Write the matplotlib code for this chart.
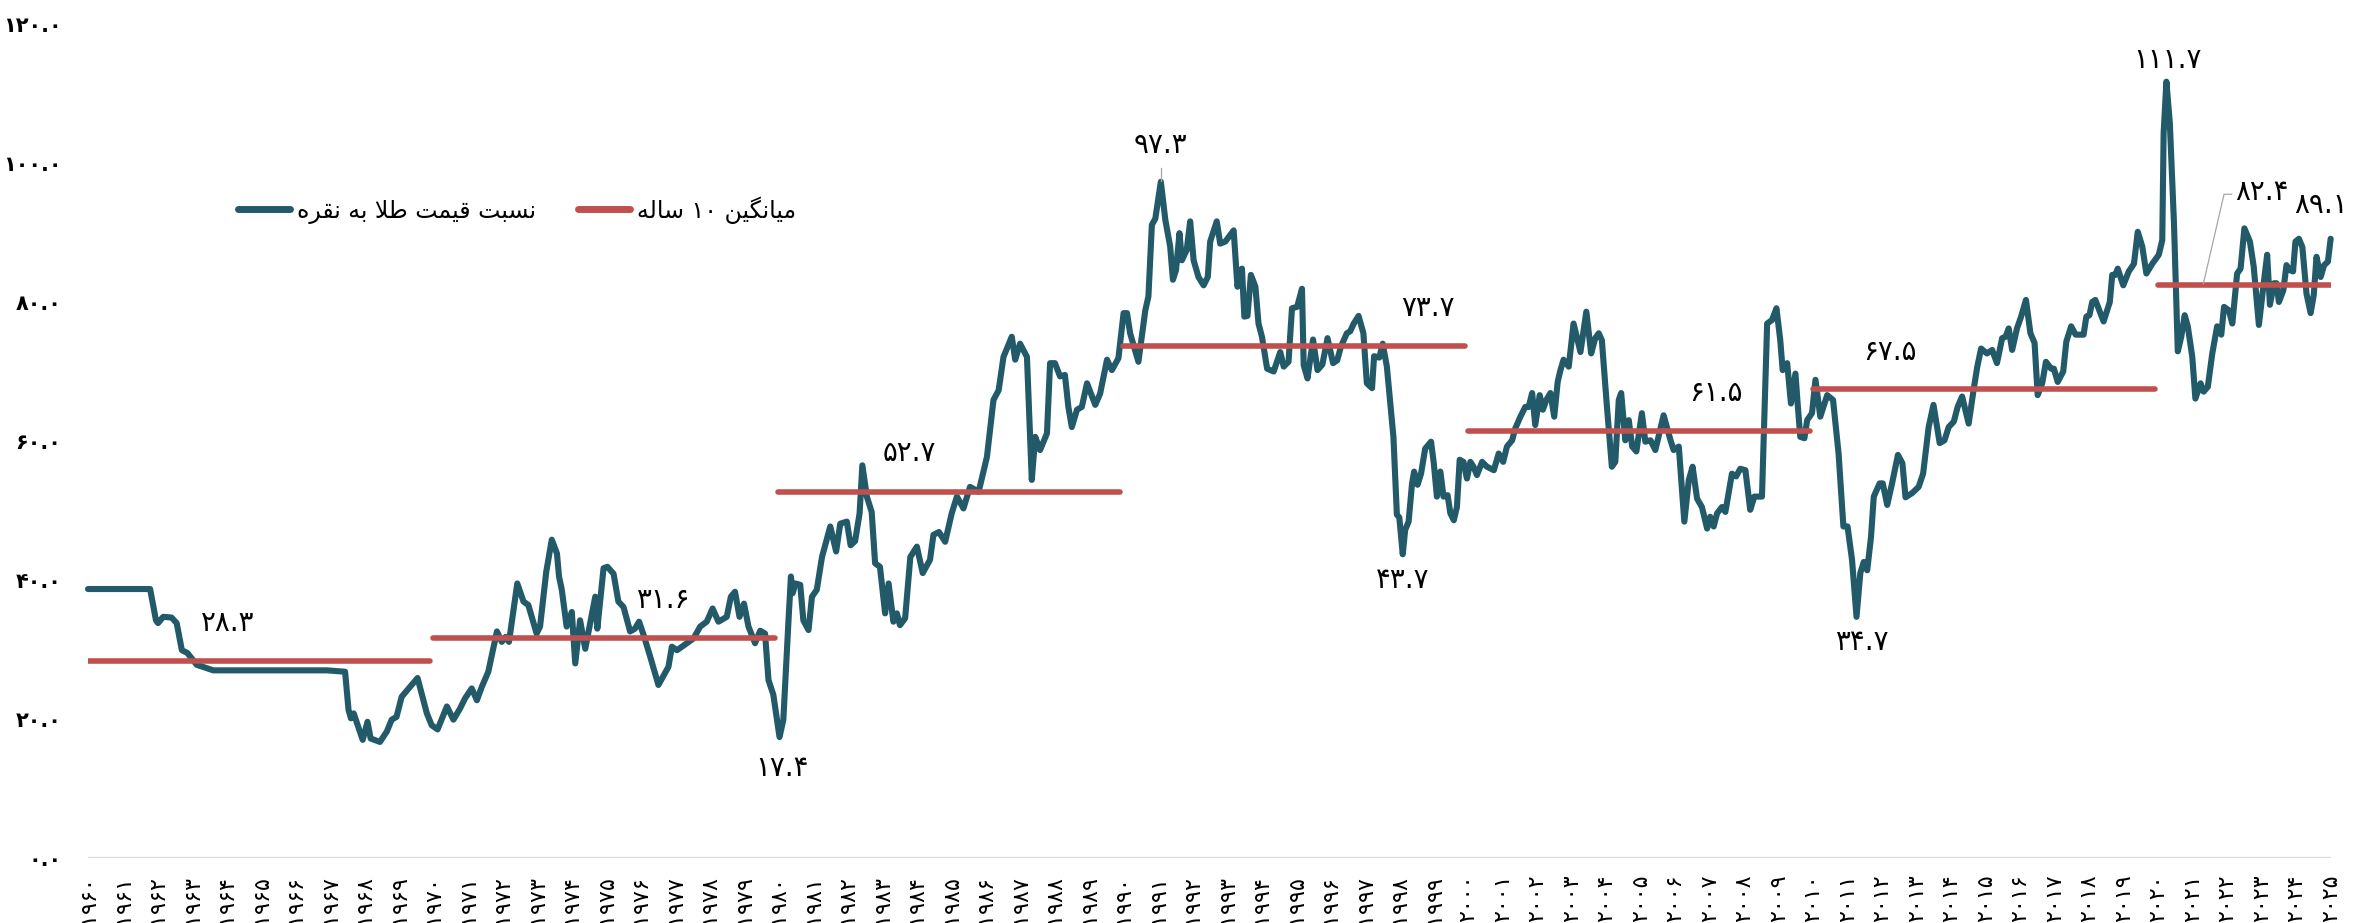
import matplotlib
matplotlib.use("Agg")
import matplotlib.pyplot as plt
from matplotlib.lines import Line2D

# ---- data ----
years = [
    1960.00, 1961.80, 1961.97, 1962.03, 1962.18, 1962.42, 1962.57, 1962.72, 1962.88, 1962.96,
    1963.15, 1963.63, 1966.92, 1967.45, 1967.55, 1967.62, 1967.70, 1967.96, 1968.10, 1968.19,
    1968.46, 1968.66, 1968.80, 1968.94, 1969.09, 1969.55, 1969.82, 1969.96, 1970.13, 1970.40,
    1970.59, 1970.78, 1970.93, 1971.12, 1971.27, 1971.41, 1971.60, 1971.85, 1971.99, 1972.10,
    1972.20, 1972.44, 1972.62, 1972.76, 1973.00, 1973.10, 1973.28, 1973.44, 1973.59, 1973.65,
    1973.73, 1973.87, 1974.02, 1974.12, 1974.26, 1974.41, 1974.70, 1974.76, 1974.94, 1975.05,
    1975.23, 1975.37, 1975.52, 1975.71, 1975.85, 1975.97, 1976.10, 1976.29, 1976.53, 1976.82,
    1976.92, 1977.07, 1977.35, 1977.55, 1977.74, 1977.93, 1978.10, 1978.27, 1978.51, 1978.63,
    1978.75, 1978.88, 1979.01, 1979.14, 1979.33, 1979.48, 1979.62, 1979.72, 1979.86, 1980.04,
    1980.15, 1980.30, 1980.37, 1980.42, 1980.50, 1980.64, 1980.73, 1980.88, 1980.98, 1981.12,
    1981.27, 1981.51, 1981.68, 1981.80, 1981.99, 1982.10, 1982.23, 1982.36, 1982.44, 1982.57,
    1982.71, 1982.81, 1982.95, 1983.10, 1983.20, 1983.34, 1983.44, 1983.53, 1983.68, 1983.83,
    1984.02, 1984.19, 1984.40, 1984.50, 1984.66, 1984.84, 1985.03, 1985.18, 1985.37, 1985.56,
    1985.81, 1986.05, 1986.24, 1986.39, 1986.53, 1986.77, 1986.87, 1987.01, 1987.21, 1987.35,
    1987.45, 1987.59, 1987.79, 1987.88, 1988.02, 1988.17, 1988.31, 1988.41, 1988.51, 1988.66,
    1988.80, 1988.95, 1989.19, 1989.33, 1989.53, 1989.67, 1989.86, 1990.01, 1990.11, 1990.20,
    1990.44, 1990.64, 1990.73, 1990.83, 1990.93, 1991.09, 1991.22, 1991.36, 1991.44, 1991.53,
    1991.63, 1991.70, 1991.84, 1991.94, 1992.04, 1992.18, 1992.33, 1992.45, 1992.52, 1992.71,
    1992.81, 1992.96, 1993.08, 1993.20, 1993.31, 1993.44, 1993.51, 1993.60, 1993.70, 1993.83,
    1993.92, 1994.02, 1994.17, 1994.36, 1994.55, 1994.65, 1994.79, 1994.89, 1995.04, 1995.18,
    1995.23, 1995.34, 1995.50, 1995.63, 1995.77, 1995.92, 1996.08, 1996.20, 1996.31, 1996.48,
    1996.58, 1996.68, 1996.82, 1996.96, 1997.06, 1997.21, 1997.27, 1997.42, 1997.52, 1997.64,
    1997.83, 1997.93, 1998.00, 1998.10, 1998.17, 1998.27, 1998.37, 1998.43, 1998.53, 1998.63,
    1998.75, 1998.92, 1999.00, 1999.09, 1999.19, 1999.28, 1999.40, 1999.48, 1999.58, 1999.67,
    1999.75, 1999.86, 1999.96, 2000.06, 2000.15, 2000.25, 2000.40, 2000.54, 2000.74, 2000.88,
    2001.01, 2001.12, 2001.27, 2001.36, 2001.51, 2001.65, 2001.75, 2001.85, 2001.94, 2002.07,
    2002.16, 2002.26, 2002.38, 2002.49, 2002.59, 2002.67, 2002.76, 2002.91, 2003.05, 2003.25,
    2003.42, 2003.56, 2003.68, 2003.78, 2003.87, 2004.01, 2004.16, 2004.26, 2004.36, 2004.43,
    2004.55, 2004.65, 2004.75, 2004.87, 2005.03, 2005.13, 2005.28, 2005.42, 2005.66, 2005.86,
    2005.95, 2006.10, 2006.26, 2006.39, 2006.50, 2006.63, 2006.77, 2006.92, 2007.01, 2007.11,
    2007.21, 2007.35, 2007.45, 2007.64, 2007.76, 2007.88, 2008.03, 2008.17, 2008.29, 2008.51,
    2008.66, 2008.80, 2008.93, 2009.04, 2009.11, 2009.24, 2009.35, 2009.48, 2009.55, 2009.62,
    2009.74, 2009.82, 2009.96, 2010.06, 2010.20, 2010.40, 2010.57, 2010.73, 2010.87, 2010.99,
    2011.12, 2011.25, 2011.36, 2011.46, 2011.56, 2011.67, 2011.75, 2011.92, 2012.01, 2012.14,
    2012.28, 2012.45, 2012.58, 2012.67, 2012.86, 2013.05, 2013.18, 2013.34, 2013.48, 2013.66,
    2013.80, 2013.92, 2014.07, 2014.18, 2014.31, 2014.50, 2014.65, 2014.75, 2014.86, 2015.03,
    2015.18, 2015.32, 2015.47, 2015.57, 2015.66, 2015.76, 2015.90, 2016.02, 2016.16, 2016.29,
    2016.41, 2016.50, 2016.63, 2016.74, 2016.89, 2016.97, 2017.08, 2017.24, 2017.33, 2017.47,
    2017.60, 2017.83, 2017.91, 2018.00, 2018.08, 2018.17, 2018.41, 2018.59, 2018.66, 2018.75,
    2018.82, 2018.98, 2019.14, 2019.29, 2019.40, 2019.53, 2019.65, 2019.82, 2020.01, 2020.11,
    2020.15, 2020.23, 2020.33, 2020.45, 2020.56, 2020.66, 2020.76, 2020.85, 2020.98, 2021.07,
    2021.22, 2021.31, 2021.43, 2021.56, 2021.70, 2021.82, 2021.90, 2022.04, 2022.14, 2022.28,
    2022.38, 2022.49, 2022.65, 2022.76, 2022.91, 2023.05, 2023.15, 2023.23, 2023.35, 2023.42,
    2023.49, 2023.62, 2023.71, 2023.80, 2023.90, 2023.97, 2024.07, 2024.17, 2024.29, 2024.41,
    2024.50, 2024.58, 2024.70, 2024.80, 2024.91, 2024.99,
]
ratio = [
    38.7, 38.7, 34.2, 33.8, 34.7, 34.6, 33.8, 29.9, 29.5, 29.0,
    27.8, 27.0, 27.0, 26.8, 21.3, 20.1, 20.8, 17.0, 19.6, 17.2,
    16.7, 18.2, 19.9, 20.3, 23.2, 25.9, 20.8, 19.1, 18.5, 21.8,
    19.9, 21.5, 23.0, 24.4, 22.7, 24.6, 26.8, 32.6, 31.1, 31.8,
    31.1, 39.5, 36.9, 36.4, 32.3, 33.3, 41.2, 45.8, 43.8, 40.5,
    38.6, 33.3, 35.4, 28.0, 34.2, 30.1, 37.6, 33.0, 41.7, 41.9,
    40.9, 36.9, 36.1, 32.6, 33.0, 34.0, 32.1, 29.0, 24.9, 27.5,
    30.4, 29.9, 30.9, 31.6, 33.3, 34.0, 35.9, 34.0, 34.7, 37.6,
    38.3, 34.7, 36.6, 33.3, 30.9, 32.7, 32.3, 25.6, 23.5, 17.4,
    19.9, 34.2, 40.5, 38.1, 39.5, 39.3, 34.2, 32.8, 37.6, 38.6,
    43.3, 47.7, 44.1, 48.1, 48.4, 45.0, 45.6, 49.6, 56.5, 52.0,
    49.8, 42.4, 41.9, 35.2, 39.5, 34.0, 35.2, 33.5, 34.5, 43.3,
    44.8, 41.0, 42.9, 46.5, 46.9, 45.5, 49.6, 52.0, 50.3, 53.4,
    52.7, 57.7, 65.9, 67.3, 72.1, 75.0, 71.7, 74.0, 72.1, 54.4,
    60.6, 58.7, 61.1, 71.2, 71.2, 69.3, 69.5, 64.9, 62.0, 64.5,
    64.9, 68.3, 65.2, 66.8, 71.7, 70.2, 71.9, 78.4, 78.4, 75.5,
    71.4, 78.8, 80.8, 91.1, 92.0, 97.3, 91.8, 88.0, 83.2, 84.6,
    89.9, 86.0, 87.5, 91.6, 86.0, 83.6, 82.4, 83.6, 88.7, 91.6,
    88.4, 88.7, 89.5, 90.3, 82.2, 84.8, 77.9, 78.0, 83.9, 82.2,
    76.9, 75.0, 70.4, 70.0, 72.8, 70.7, 71.4, 79.1, 79.3, 81.9,
    70.9, 69.0, 74.6, 70.2, 71.0, 74.8, 71.2, 71.6, 73.6, 75.5,
    75.8, 76.9, 78.0, 75.5, 68.3, 67.6, 72.2, 72.0, 74.0, 70.7,
    60.6, 49.4, 49.0, 43.7, 47.2, 48.4, 53.9, 55.6, 53.7, 55.3,
    58.9, 59.9, 56.8, 52.0, 55.6, 52.0, 52.2, 49.6, 48.6, 50.5,
    57.3, 57.0, 54.6, 57.0, 56.3, 55.1, 57.0, 56.3, 55.8, 58.2,
    57.0, 59.2, 60.1, 61.8, 63.5, 64.9, 64.9, 66.9, 62.3, 66.6,
    64.5, 65.9, 66.9, 63.5, 68.5, 70.2, 71.7, 70.7, 76.9, 72.8,
    78.6, 72.6, 74.8, 75.5, 74.5, 65.4, 56.3, 57.0, 65.9, 66.9,
    60.1, 63.0, 59.2, 58.5, 64.0, 59.9, 60.1, 58.7, 63.7, 60.1,
    58.7, 59.2, 48.4, 54.4, 56.3, 51.7, 50.5, 47.4, 49.1, 47.7,
    49.6, 50.5, 49.8, 55.3, 54.9, 56.0, 55.8, 50.1, 52.0, 52.0,
    76.9, 77.4, 79.1, 74.5, 70.2, 71.2, 65.4, 69.7, 65.0, 60.6,
    60.4, 63.0, 64.0, 68.8, 63.5, 66.6, 65.9, 58.2, 47.7, 47.7,
    42.9, 34.7, 41.0, 42.6, 41.4, 46.2, 52.0, 53.9, 53.9, 50.8,
    53.9, 58.0, 56.8, 51.9, 52.5, 53.4, 55.3, 62.0, 65.2, 59.7,
    60.1, 62.0, 62.8, 64.9, 66.4, 62.5, 67.6, 70.7, 73.3, 72.6,
    73.1, 71.2, 74.8, 75.0, 76.2, 73.1, 76.2, 77.9, 80.3, 75.5,
    74.1, 66.6, 68.3, 71.4, 70.4, 70.4, 68.5, 70.0, 74.3, 76.5,
    75.3, 75.3, 77.9, 78.1, 80.0, 80.3, 77.2, 80.0, 83.9, 83.9,
    84.8, 82.4, 84.4, 85.5, 90.1, 88.0, 84.1, 85.5, 86.8, 88.9,
    104.3, 111.7, 105.7, 91.3, 72.9, 75.0, 78.1, 76.5, 72.1, 66.1,
    68.3, 67.1, 67.8, 72.6, 76.5, 75.3, 79.3, 78.8, 76.9, 84.1,
    84.8, 90.6, 88.7, 85.1, 76.7, 82.7, 86.8, 79.6, 82.7, 82.7,
    80.0, 81.7, 85.3, 84.6, 84.4, 88.7, 89.1, 87.9, 81.2, 78.4,
    81.0, 86.5, 83.6, 85.3, 85.8, 89.1,
]

# 10-year averages
avg_start = [1960, 1970, 1980, 1990, 2000, 2010, 2020]
avg_end = [1969.9, 1979.9, 1989.9, 1999.9, 2009.9, 2019.9, 2025.0]
avg_value = [28.3, 31.6, 52.7, 73.7, 61.5, 67.5, 82.4]

# value labels: (value, x, y)
labels = [
    (28.3, 1964.06, 33.8), (31.6, 1976.67, 37.1), (17.4, 1980.1, 12.9),
    (52.7, 1983.8, 58.3), (97.3, 1991.07, 102.6), (73.7, 1998.84, 79.1),
    (43.7, 1998.09, 40.0), (61.5, 2007.16, 66.9), (67.5, 2012.23, 72.8),
    (34.7, 2011.39, 31.1), (111.7, 2020.26, 114.8), (82.4, 2023.0, 95.8),
    (89.1, 2024.7, 94.0),
]

legend_ratio = "نسبت قیمت طلا به نقره"
legend_avg = "میانگین ۱۰ ساله"

BLUE = "#225A69"
RED = "#C0504D"
FA_DIGITS = str.maketrans("0123456789", "۰۱۲۳۴۵۶۷۸۹")

# minimal Persian shaping (matplotlib has no complex text layout)
FORMS = {
    "ا": ("\uFE8D", "\uFE8E", None, None),
    "ب": ("\uFE8F", "\uFE90", "\uFE91", "\uFE92"),
    "ت": ("\uFE95", "\uFE96", "\uFE97", "\uFE98"),
    "ر": ("\uFEAD", "\uFEAE", None, None),
    "س": ("\uFEB1", "\uFEB2", "\uFEB3", "\uFEB4"),
    "ط": ("\uFEC1", "\uFEC2", "\uFEC3", "\uFEC4"),
    "ق": ("\uFED5", "\uFED6", "\uFED7", "\uFED8"),
    "ل": ("\uFEDD", "\uFEDE", "\uFEDF", "\uFEE0"),
    "م": ("\uFEE1", "\uFEE2", "\uFEE3", "\uFEE4"),
    "ن": ("\uFEE5", "\uFEE6", "\uFEE7", "\uFEE8"),
    "ه": ("\uFEE9", "\uFEEA", "\uFEEB", "\uFEEC"),
    "ی": ("\uFBFC", "\uFBFD", "\uFBFE", "\uFBFF"),
    "گ": ("\uFB92", "\uFB93", "\uFB94", "\uFB95"),
    "لا": ("\uFEFB", "\uFEFC", None, None),
}


def shape_word(w):
    units = []
    i = 0
    while i < len(w):
        if w[i] == "ل" and i + 1 < len(w) and w[i + 1] == "ا":
            units.append("لا")
            i += 2
        else:
            units.append(w[i])
            i += 1
    out = []
    for k, u in enumerate(units):
        prev = k > 0 and FORMS[units[k - 1]][2] is not None
        nxt = FORMS[u][2] is not None and k < len(units) - 1
        idx = 3 if (prev and nxt) else 1 if prev else 2 if nxt else 0
        out.append(FORMS[u][idx])
    return "".join(reversed(out))


def fa(text):
    words = [shape_word(w) if any(c in FORMS for c in w) else w for w in text.split(" ")]
    return " ".join(reversed(words))


plt.rcParams["font.family"] = ["DejaVu Sans"]

fig = plt.figure(figsize=(23.54, 9.23), dpi=100)
ax = fig.add_axes([88 / 2354, 65 / 923, 2243 / 2354, 834 / 923])
ax.set_xlim(1960, 2025)
ax.set_ylim(0, 120)
for s in ax.spines.values():
    s.set_visible(False)
ax.axhline(0, color="#D9D9D9", lw=1.6, zorder=1)

ax.plot(years, ratio, color=BLUE, lw=4.4, solid_joinstyle="round",
        solid_capstyle="round", zorder=3, clip_on=False)
for x0, x1, v in zip(avg_start, avg_end, avg_value):
    ax.plot([x0, x1], [v, v], color=RED, lw=4.0, solid_capstyle="round", zorder=4)

for v, x, y in labels:
    ax.text(x, y, f"{v:.1f}".translate(FA_DIGITS), ha="center", va="center",
            fontsize=20, color="black", zorder=5)

# leader lines
ax.plot([1991.09, 1991.09], [97.4, 99.3], color="#A6A6A6", lw=0.9, zorder=5)
ax.plot([2021.3, 2021.9, 2022.12], [82.6, 95.5, 95.5], color="#A6A6A6", lw=0.9, zorder=5)

yt = list(range(0, 121, 20))
ax.set_yticks(yt)
ax.set_yticklabels([f"{v:.1f}".translate(FA_DIGITS) for v in yt], fontsize=15,
                   fontweight="bold")
xt = list(range(1960, 2026))
ax.set_xticks(xt)
ax.set_xticklabels([str(y).translate(FA_DIGITS) for y in xt], rotation=90, fontsize=16)
ax.tick_params(axis="y", length=0, pad=19)
ax.tick_params(axis="x", length=0, pad=12)

handles = [Line2D([], [], color=BLUE, lw=5, solid_capstyle="round"),
           Line2D([], [], color=RED, lw=5, solid_capstyle="round")]
ax.legend(handles, [fa(legend_ratio), fa(legend_avg)], loc="center",
          bbox_to_anchor=(517 / 2354, (923 - 210) / 923), bbox_transform=fig.transFigure,
          ncol=2, frameon=False, fontsize=17, handlelength=2.2, handletextpad=0.3,
          columnspacing=1.8)

fig.savefig("out.png", dpi=100)
